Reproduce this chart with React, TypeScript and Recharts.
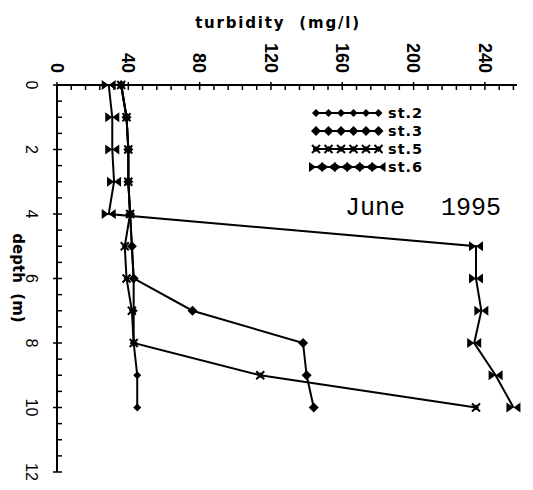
import React from 'react'
import { LineChart, Line, XAxis, YAxis } from 'recharts'

// depth (m) of each sample, top to bottom
const depths = [0, 1, 2, 3, 4, 5, 6, 7, 8, 9, 10]

// turbidity (mg/l) per station
const st2 = [36, 39, 40, 40, 41, 42, 43, 43, 43, 45, 45]
const st3 = [36, 39, 40, 40, 41, 42, 43, 76, 138, 140, 144]
const st5 = [36, 39, 40, 40, 41, 38, 39, 42, 43, 114, 235]
const st6 = [29, 31, 31, 32, 29, 235, 235, 238, 234, 246, 256]

const stationNames = ['st.2', 'st.3', 'st.5', 'st.6']
const stationKeys = ['st2', 'st3', 'st5', 'st6']
const markerKinds = ['dot', 'diamond', 'star', 'bow']

const turbidityTicks = [
  0, 8, 16, 24, 32, 40, 48, 56, 64, 72, 80, 88, 96, 104, 112, 120, 128, 136, 144, 152, 160,
  168, 176, 184, 192, 200, 208, 216, 224, 232, 240, 248, 256,
]
const turbidityLabels = [0, 40, 80, 120, 160, 200, 240]
const depthTicks = [0, 0.5, 1, 1.5, 2, 2.5, 3, 3.5, 4, 4.5, 5, 5.5, 6, 6.5, 7, 7.5, 8, 8.5, 9, 9.5, 10, 10.5, 11, 11.5, 12]
const depthLabels = [0, 2, 4, 6, 8, 10, 12]

const data = depths.map((d, i) => ({ depth: d, st2: st2[i], st3: st3[i], st5: st5[i], st6: st6[i] }))

const marker = (kind: string, x: number, y: number, key?: string) => {
  if (kind === 'bow') {
    return <path key={key} d={`M${x - 7},${y - 5} L${x + 7},${y + 5} L${x + 7},${y - 5} L${x - 7},${y + 5} Z`} fill="#000" />
  }
  if (kind === 'star') {
    return (
      <g key={key}>
        <path d={`M${x - 4},${y - 4} L${x + 4},${y + 4} M${x + 4},${y - 4} L${x - 4},${y + 4}`} stroke="#000" strokeWidth={2} />
        <path d={`M${x},${y - 3} L${x + 3},${y} L${x},${y + 3} L${x - 3},${y} Z`} fill="#000" />
      </g>
    )
  }
  const r = kind === 'diamond' ? 5 : 4
  return <path key={key} d={`M${x},${y - r} L${x + r},${y} L${x},${y + r} L${x - r},${y} Z`} fill="#000" />
}

const XTick = ({ x, y, payload }: any) => {
  const v = payload.value
  const major = turbidityLabels.includes(v)
  return (
    <g>
      <line x1={x} y1={y - (major ? 3 : 0)} x2={x} y2={y + 5} stroke="#000" strokeWidth={1.5} />
      {major && (
        <text
          x={x}
          y={y - 12}
          transform={`rotate(90 ${x} ${y - 12})`}
          textAnchor="end"
          dy="0.35em"
          fontFamily="Liberation Sans, Arial, sans-serif"
          fontWeight="bold"
          fontSize={18}
          fill="#000"
        >
          {v}
        </text>
      )}
    </g>
  )
}

const YTick = ({ x, y, payload }: any) => {
  const v = payload.value
  const major = depthLabels.includes(v)
  return (
    <g>
      <line x1={x - (major ? 4 : 0)} y1={y} x2={x + 5} y2={y} stroke="#000" strokeWidth={1.5} />
      {major && (
        <text
          x={32}
          y={y}
          transform={`rotate(90 32 ${y})`}
          textAnchor="middle"
          dy="0.35em"
          fontFamily="Liberation Sans, Arial, sans-serif"
          fontSize={16}
          fill="#000"
        >
          {v}
        </text>
      )}
    </g>
  )
}

export default function App() {
  const legendY = [113, 131, 149, 167]
  return (
    <div style={{ position: 'absolute', left: 0, top: 0, width: 533, height: 490, background: '#fff' }}>
      <LineChart width={533} height={490} data={data} layout="vertical" margin={{ top: 45, right: 16, bottom: 18, left: 17 }}>
        <XAxis
          type="number"
          orientation="top"
          domain={[0, 258]}
          ticks={turbidityTicks}
          interval={0}
          height={40}
          tickSize={0}
          tickMargin={0}
          tickLine={false}
          tick={<XTick />}
          axisLine={{ stroke: '#000', strokeWidth: 2 }}
        />
        <YAxis
          type="number"
          dataKey="depth"
          domain={[0, 12]}
          ticks={depthTicks}
          interval={0}
          width={40}
          tickSize={0}
          tickMargin={0}
          tickLine={false}
          tick={<YTick />}
          axisLine={{ stroke: '#000', strokeWidth: 2 }}
        />
        {stationKeys.map((k, si) => (
          <Line
            key={k}
            dataKey={k}
            stroke="#000"
            strokeWidth={2}
            isAnimationActive={false}
            activeDot={false}
            dot={(p: any) => marker(markerKinds[si], p.cx, p.cy, `${k}-${p.index}`)}
          />
        ))}
      </LineChart>
      <svg width={533} height={490} style={{ position: 'absolute', left: 0, top: 0, pointerEvents: 'none' }}>
        <text
          x={278}
          y={28}
          textAnchor="middle"
          fontFamily="DejaVu Sans, sans-serif"
          fontWeight="bold"
          fontSize={15}
          letterSpacing={1.8}
          fill="#000"
          style={{ whiteSpace: 'pre' }}
        >
          turbidity  (mg/l)
        </text>
        <text
          x={18}
          y={278}
          transform="rotate(90 18 278)"
          textAnchor="middle"
          dy="0.35em"
          fontFamily="DejaVu Sans, sans-serif"
          fontWeight="bold"
          fontSize={15}
          fill="#000"
          style={{ whiteSpace: 'pre' }}
        >
          depth  (m)
        </text>
        {stationNames.map((name, i) => (
          <g key={name}>
            <line x1={313} y1={legendY[i]} x2={380} y2={legendY[i]} stroke="#000" strokeWidth={2} />
            {[0, 1, 2, 3, 4, 5].map((j) => marker(markerKinds[i], 316 + j * 12.5, legendY[i], `${name}-${j}`))}
            <text
              x={388}
              y={legendY[i]}
              dy="0.35em"
              fontFamily="DejaVu Sans, sans-serif"
              fontWeight="bold"
              fontSize={14.5}
              letterSpacing={1}
              fill="#000"
            >
              {name}
            </text>
          </g>
        ))}
        <text y={215} fontFamily="Liberation Mono, Courier New, monospace" fontSize={25} fill="#000">
          <tspan x={345}>June</tspan>
          <tspan x={441}>1995</tspan>
        </text>
      </svg>
    </div>
  )
}
